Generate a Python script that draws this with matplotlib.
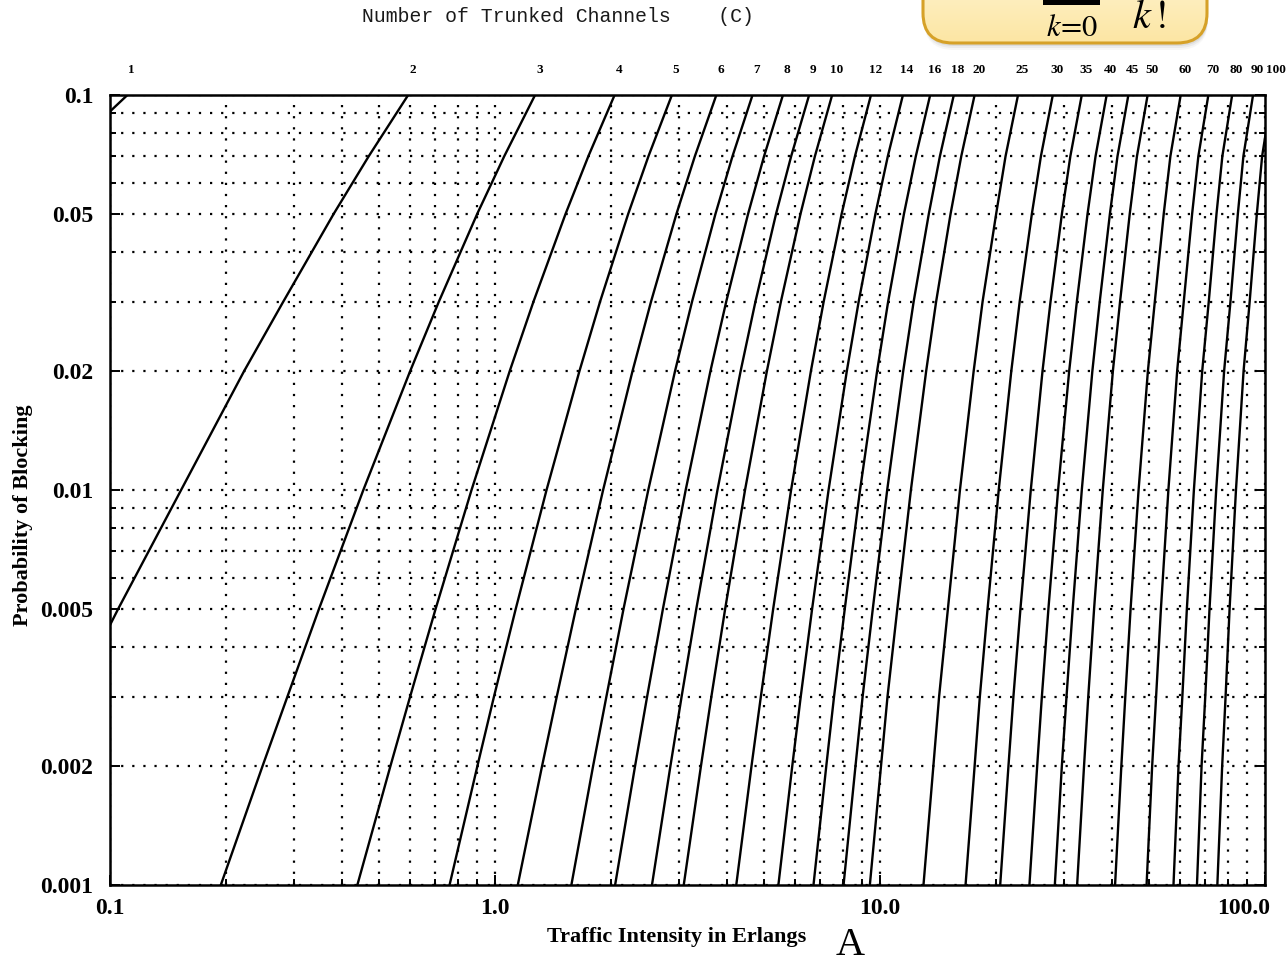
"""Erlang B chart: blocking probability vs offered traffic for C trunked channels."""

import matplotlib

matplotlib.use("Agg")

import numpy as np  # noqa: E402
import matplotlib.pyplot as plt  # noqa: E402
from matplotlib.patches import FancyBboxPatch, Rectangle  # noqa: E402
from matplotlib.ticker import LogLocator, NullFormatter  # noqa: E402
from matplotlib.transforms import ScaledTranslation  # noqa: E402

# number of channels, one curve each
CHANNELS = [1, 2, 3, 4, 5, 6, 7, 8, 9, 10, 12, 14, 16, 18, 20,
            25, 30, 35, 40, 45, 50, 60, 70, 80, 90, 100]

# blocking levels at which the traffic (Erlangs) was read for every curve
BLOCKING = [0.001, 0.002, 0.003, 0.005, 0.01, 0.02, 0.03, 0.05, 0.07, 0.1]

TRAFFIC_B0001 = [0.001, 0.0458, 0.194, 0.439, 0.762, 1.146, 1.579, 2.051, 2.557, 3.092,
                 4.233, 5.446, 6.718, 8.041, 9.411, 12.97, 16.68, 20.52, 24.44, 28.45,
                 32.51, 40.79, 49.25, 57.85, 66.57, 75.2]
TRAFFIC_B0002 = [0.002, 0.0653, 0.249, 0.535, 0.900, 1.325, 1.798, 2.311, 2.855, 3.427,
                 4.637, 5.917, 7.252, 8.636, 10.06, 13.76, 17.61, 21.56, 25.60, 29.67,
                 33.88, 42.35, 50.92, 59.62, 68.43, 77.40]
TRAFFIC_B0003 = [0.00301, 0.0806, 0.289, 0.602, 0.994, 1.447, 1.947, 2.484, 3.053, 3.648,
                 4.904, 6.225, 7.597, 9.013, 10.46, 14.24, 18.17, 22.21, 26.33, 30.51,
                 34.75, 43.37, 52.14, 61.00, 69.96, 79.00]
TRAFFIC_B0005 = [0.00503, 0.105, 0.349, 0.701, 1.132, 1.622, 2.157, 2.730, 3.333, 3.961,
                 5.279, 6.663, 8.100, 9.578, 11.09, 15.01, 19.03, 23.16, 27.38, 31.66,
                 35.98, 44.76, 53.66, 62.67, 71.76, 80.91]
TRAFFIC_B001 = [0.0101, 0.153, 0.455, 0.869, 1.361, 1.909, 2.501, 3.128, 3.783, 4.461,
                5.876, 7.352, 8.875, 10.44, 12.03, 16.13, 20.34, 24.64, 29.01, 33.43,
                37.90, 46.95, 56.11, 65.36, 74.68, 84.06]
TRAFFIC_B002 = [0.0204, 0.223, 0.602, 1.092, 1.657, 2.276, 2.935, 3.627, 4.345, 5.084,
                6.615, 8.200, 9.828, 11.49, 13.18, 17.51, 21.93, 26.43, 31.00, 35.61,
                40.26, 49.64, 59.13, 68.69, 78.31, 87.97]
TRAFFIC_B003 = [0.0309, 0.282, 0.715, 1.259, 1.875, 2.543, 3.250, 3.987, 4.748, 5.529,
                7.141, 8.803, 10.50, 12.23, 13.99, 18.47, 23.06, 27.73, 32.46, 37.22,
                42.03, 51.74, 61.52, 71.44, 81.34, 91.24]
TRAFFIC_B005 = [0.0526, 0.381, 0.899, 1.525, 2.218, 2.960, 3.738, 4.543, 5.370, 6.216,
                7.950, 9.730, 11.54, 13.39, 15.25, 20.03, 24.80, 29.68, 34.60, 39.55,
                44.53, 54.57, 64.67, 74.82, 85.01, 95.24]
TRAFFIC_B007 = [0.0753, 0.470, 1.057, 1.748, 2.504, 3.305, 4.139, 4.999, 5.879, 6.776,
                8.610, 10.48, 12.39, 14.31, 16.26, 21.19, 26.18, 31.22, 36.30, 41.39,
                46.50, 56.79, 67.13, 77.49, 87.88, 98.30]
TRAFFIC_B01 = [0.111, 0.595, 1.271, 2.045, 2.881, 3.758, 4.666, 5.597, 6.546, 7.511,
               9.474, 11.47, 13.50, 15.55, 17.61, 22.83, 28.11, 33.43, 38.79, 44.17,
               49.56, 60.40, 71.27, 82.17, 93.10, 104.1]

X_TICKS = [0.1, 1.0, 10.0, 100.0]
X_TICK_LABELS = ["0.1", "1.0", "10.0", "100.0"]
Y_TICKS = [0.001, 0.002, 0.005, 0.01, 0.02, 0.05, 0.1]
Y_TICK_LABELS = ["0.001", "0.002", "0.005", "0.01", "0.02", "0.05", "0.1"]

W, H = 1287, 964
SERIF = "Liberation Serif"

plt.rcParams["font.family"] = SERIF

fig = plt.figure(figsize=(W / 100, H / 100), dpi=100)
fig.patch.set_facecolor("white")
ax = fig.add_axes([110 / W, 1 - 885 / H, 1155 / W, 790 / H])
ax.set_xscale("log")
ax.set_yscale("log")
ax.set_xlim(0.1, 100)
ax.set_ylim(0.001, 0.1)

levels = [TRAFFIC_B0001, TRAFFIC_B0002, TRAFFIC_B0003, TRAFFIC_B0005, TRAFFIC_B001,
          TRAFFIC_B002, TRAFFIC_B003, TRAFFIC_B005, TRAFFIC_B007, TRAFFIC_B01]
for i, c in enumerate(CHANNELS):
    xs = [lvl[i] for lvl in levels]
    ax.plot(xs, BLOCKING, color="black", lw=1.7, zorder=3)
    ax.annotate(str(c), xy=(TRAFFIC_B01[i], 1.0), xycoords=ax.get_xaxis_transform(),
                xytext=(3, 18), textcoords="offset points", ha="center", va="center",
                fontsize=9.5, fontweight="bold", annotation_clip=False)

ax.set_xticks(X_TICKS, labels=X_TICK_LABELS)
ax.set_yticks(Y_TICKS, labels=Y_TICK_LABELS)
for axis in (ax.xaxis, ax.yaxis):
    axis.set_minor_locator(LogLocator(base=10, subs=np.arange(2, 10), numticks=20))
    axis.set_minor_formatter(NullFormatter())

ax.grid(True, which="both", color="black", lw=1.6, linestyle=(0, (1, 4)))
ax.tick_params(which="both", direction="in", left=True, right=True, bottom=True,
               top=False, width=1.4, color="black")
ax.tick_params(which="major", length=7)
ax.tick_params(which="minor", length=4)
ax.tick_params(axis="y", pad=12, labelsize=17)
ax.tick_params(axis="x", pad=9, labelsize=17)
for lbl in ax.get_xticklabels() + ax.get_yticklabels():
    lbl.set_fontweight("bold")
last = ax.get_xticklabels()[-1]
last.set_transform(last.get_transform() + ScaledTranslation(-0.21, 0, fig.dpi_scale_trans))
for s in ax.spines.values():
    s.set_linewidth(1.8)

ax.set_ylabel("Probability of Blocking", fontsize=16, fontweight="bold")
ax.yaxis.set_label_coords(-0.0665, 0.468)
ax.set_xlabel("Traffic Intensity in Erlangs", fontsize=16, fontweight="bold")
ax.xaxis.set_label_coords(0.491, -0.053)

# overlay in pixel coordinates for the slide decorations
ov = fig.add_axes([0, 0, 1, 1], zorder=5)
ov.axis("off")
ov.patch.set_alpha(0)

bx, by, bw, bh = 923, -60, 284, 103
for off, a in [(7, 0.06), (5, 0.09), (3, 0.13)]:
    ov.add_patch(FancyBboxPatch((bx + 1, by + off), bw, bh,
                                boxstyle="round,pad=0,rounding_size=30",
                                fc="#777777", ec="none", alpha=a))
box = FancyBboxPatch((bx, by), bw, bh, boxstyle="round,pad=0,rounding_size=30",
                     fc="none", ec="#d6a128", lw=2.2, zorder=3)
ov.add_patch(box)
grad = np.linspace(0, 1, 100)[:, None]
top_c = np.array([1.0, 0.98, 0.88])
bot_c = np.array([0.99, 0.90, 0.64])
img = top_c + (bot_c - top_c) * grad[..., None] * np.ones((1, 2, 1))
im = ov.imshow(img, extent=(bx, bx + bw, by + bh, by), origin="upper",
               aspect="auto", zorder=1)
im.set_clip_path(box)

ov.add_patch(Rectangle((1043, -6), 57, 11, fc="black", ec="none", zorder=4))
ov.text(1072, 36, r"$k\!=\!0$", fontsize=22, ha="center", va="baseline",
        math_fontfamily="stix", zorder=4)
ov.text(1149, 28, r"$k\,!$", fontsize=29, ha="center", va="baseline",
        math_fontfamily="stix", zorder=4)

ov.text(558, 17, "Number of Trunked Channels    (C)", family="Liberation Mono",
        fontsize=14.2, ha="center", va="center", color="#1a1a1a")
ov.text(850, 955, "A", fontsize=29, ha="center", va="baseline")

ov.set_xlim(0, W)
ov.set_ylim(H, 0)

fig.savefig("out.png", dpi=100)
